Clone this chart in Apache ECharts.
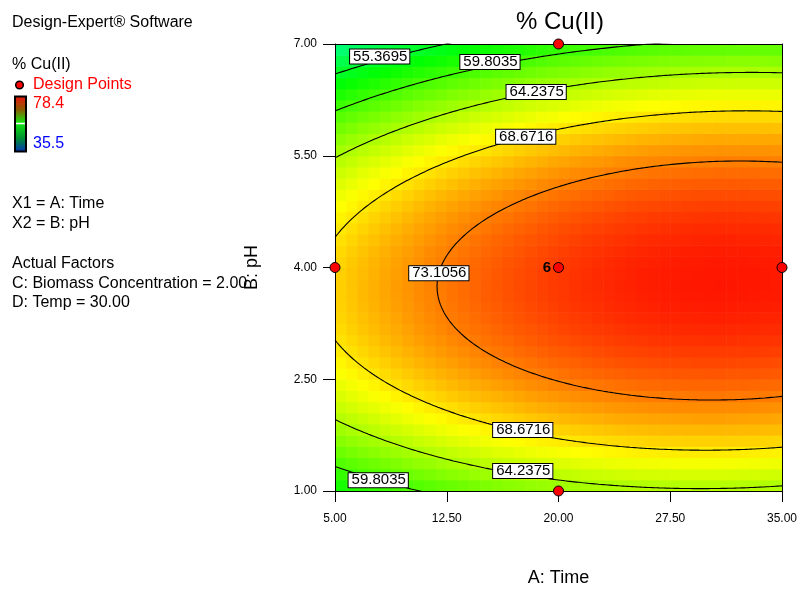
<!DOCTYPE html>
<html>
<head>
<meta charset="utf-8">
<script src="https://cdn.jsdelivr.net/npm/echarts@6/dist/echarts.min.js"></script>
<style>
  html, body { margin: 0; padding: 0; background: #ffffff; }
  #chart { width: 798px; height: 589px; }
</style>
</head>
<body>
<div id="chart"></div>
<script>
// ---- Data ----------------------------------------------------------------
// Axis ticks (actual factor units)
const timeTicks = [5, 12.5, 20, 27.5, 35];
const phTicks = [1, 2.5, 4, 5.5, 7];

// Fitted quadratic for % Cu(II) in coded factors A (Time) and B (pH),
// with C (Biomass Concentration) and D (Temp) held at their actual values.
const modelTerms = ['Intercept', 'A', 'B', 'AB', 'A^2', 'B^2'];
const modelCoef = [75.92, 3.96, -2.26, 0.64, -2.62, -15.30];

// Contour levels drawn on the surface
const contourLevels = [55.3695, 59.8035, 64.2375, 68.6716, 73.1056];

// Observed response range (colour scale)
const responseRange = [35.5, 78.4];

// Design points (Time, pH) and replicate count
const designTime = [5, 20, 20, 20, 35];
const designPH = [4, 7, 4, 1, 4];
const designReps = [1, 1, 6, 1, 1];

// ---- Model helpers -------------------------------------------------------
const FONT = '"Liberation Sans", Arial, Helvetica, sans-serif';
const toCoded = (t, p) => [(t - 20) / 15, (p - 4) / 3];
const toActual = (a, b) => [20 + 15 * a, 4 + 3 * b];

function response(t, p) {
  const [a, b] = toCoded(t, p);
  const c = modelCoef;
  return c[0] + c[1] * a + c[2] * b + c[3] * a * b + c[4] * a * a + c[5] * b * b;
}

// Coded B values (upper, lower) at which the response equals `level` for coded A = a
function solveB(a, level) {
  const c = modelCoef;
  const qa = c[5], qb = c[2] + c[3] * a, qc = c[0] + c[1] * a + c[4] * a * a - level;
  const disc = qb * qb - 4 * qa * qc;
  if (disc < 0) return null;
  const s = Math.sqrt(disc);
  const b1 = (-qb - s) / (2 * qa), b2 = (-qb + s) / (2 * qa);
  return [Math.max(b1, b2), Math.min(b1, b2)];
}

// Left-most coded A where a contour closes on itself (or -1 if it stays open)
function contourTip(level) {
  if (solveB(-1, level)) return -1;
  let lo = -1, hi = 1;
  for (let k = 0; k < 60; k++) {
    const mid = (lo + hi) / 2;
    if (solveB(mid, level)) hi = mid; else lo = mid;
  }
  return hi;
}

function contourPaths(level) {
  const N = 400;
  const tip = contourTip(level);
  const up = [], dn = [];
  for (let i = 0; i <= N; i++) {
    const s = i / N;
    const a = tip === -1 ? -1 + 2 * s : tip + (1 - tip) * s * s;
    const r = solveB(a, level);
    if (!r) continue;
    up.push(toActual(a, r[0]));
    dn.push(toActual(a, r[1]));
  }
  if (tip === -1) return [up, dn];
  return [dn.reverse().concat(up)];
}

// ---- Response grid (40 x 40 cells) --------------------------------------
const nCols = 40, nRows = 40;
const tMin = timeTicks[0], tMax = timeTicks[timeTicks.length - 1];
const pMin = phTicks[0], pMax = phTicks[phTicks.length - 1];
const dT = (tMax - tMin) / nCols, dP = (pMax - pMin) / nRows;
const cells = [];
for (let i = 0; i < nCols; i++) {
  for (let j = 0; j < nRows; j++) {
    const t = tMin + (i + 0.5) * dT, p = pMin + (j + 0.5) * dP;
    cells.push([t, p, response(t, p)]);
  }
}

// ---- Series ------------------------------------------------------------
const series = [];

series.push({
  type: 'custom',
  name: 'surface',
  silent: true,
  clip: true,
  z: 1,
  data: cells,
  encode: { x: 0, y: 1 },
  renderItem: function (params, api) {
    const t = api.value(0), p = api.value(1);
    const p0 = api.coord([t - dT / 2, p + dP / 2]);
    const p1 = api.coord([t + dT / 2, p - dP / 2]);
    return {
      type: 'rect',
      shape: { x: p0[0], y: p0[1], width: p1[0] - p0[0] + 0.6, height: p1[1] - p0[1] + 0.6 },
      style: { fill: api.visual('color') }
    };
  }
});

contourLevels.forEach(level => {
  contourPaths(level).forEach(path => {
    series.push({
      type: 'line',
      data: path,
      showSymbol: false,
      symbol: 'none',
      clip: true,
      silent: true,
      z: 4,
      lineStyle: { color: '#000000', width: 1.1 }
    });
  });
});

// Contour labels: anchored on each contour at a chosen Time
// (branch 0 = upper arm, 1 = lower arm; tipOffset = Time past the closed end)
const labelAnchors = [
  { level: 55.3695, time: 8.0, branch: 0, dy: -4 },
  { level: 59.8035, time: 15.4, branch: 0, dy: -4 },
  { level: 64.2375, time: 18.5, branch: 0, dy: 0 },
  { level: 68.6716, time: 17.8, branch: 0, dy: 0 },
  { level: 73.1056, tipOffset: 0.12, branch: 0, dy: 0 },
  { level: 68.6716, time: 17.6, branch: 1, dy: -2 },
  { level: 64.2375, time: 17.6, branch: 1, dy: -4 },
  { level: 59.8035, time: 7.9, branch: 1, dy: 0 }
];
const labelData = labelAnchors.map(an => {
  const a = an.tipOffset !== undefined
    ? contourTip(an.level) + an.tipOffset / 15
    : (an.time - 20) / 15;
  const b = solveB(a, an.level)[an.branch];
  return {
    value: toActual(a, b),
    name: an.level.toFixed(4),
    label: { offset: [0, an.dy] }
  };
});
series.push({
  type: 'scatter',
  data: labelData,
  symbolSize: 0,
  silent: true,
  clip: false,
  z: 6,
  itemStyle: { opacity: 1 },
  label: {
    show: true,
    position: 'inside',
    formatter: p => p.name,
    color: '#000000',
    fontFamily: FONT,
    fontSize: 15,
    lineHeight: 13,
    backgroundColor: '#ffffff',
    borderColor: '#000000',
    borderWidth: 1,
    padding: [1, 2, 0, 3]
  }
});

// Design points
series.push({
  type: 'scatter',
  data: designTime.map((t, i) => ({ value: [t, designPH[i]], reps: designReps[i] })),
  symbol: 'circle',
  symbolSize: 10,
  clip: false,
  silent: true,
  z: 10,
  itemStyle: { color: '#ff0000', borderColor: '#000000', borderWidth: 1, opacity: 1 },
  label: {
    show: true,
    position: 'left',
    distance: 2,
    formatter: p => (p.data.reps > 1 ? String(p.data.reps) : ''),
    color: '#000000',
    fontFamily: FONT,
    fontSize: 15,
    fontWeight: 'bold'
  }
});

// ---- Side panel text ---------------------------------------------------
const textStyle = (txt, x, y, fill, size) => ({
  type: 'text',
  x: x, y: y,
  style: {
    text: txt,
    fill: fill || '#000000',
    font: (size || 16) + 'px ' + FONT,
    textAlign: 'left',
    textVerticalAlign: 'middle'
  },
  silent: true,
  z: 20
});

const graphics = [
  textStyle('Design-Expert\u00AE Software', 12, 23),
  textStyle('% Cu(II)', 12, 65),
  textStyle('Design Points', 33, 85, '#ff0000'),
  textStyle('78.4', 33, 104, '#ff0000'),
  textStyle('35.5', 33, 144, '#0000ff'),
  textStyle('X1 = A: Time', 12, 204),
  textStyle('X2 = B: pH', 12, 224),
  textStyle('Actual Factors', 12, 264),
  textStyle('C: Biomass Concentration = 2.00', 12, 284),
  textStyle('D: Temp = 30.00', 12, 303),
  {
    type: 'circle',
    shape: { cx: 19.5, cy: 85, r: 3.8 },
    style: { fill: '#ff0000', stroke: '#000000', lineWidth: 1.5 },
    silent: true, z: 20
  },
  {
    type: 'rect',
    shape: { x: 15, y: 96.5, width: 11, height: 55 },
    style: {
      fill: new echarts.graphic.LinearGradient(0, 0, 0, 1, [
        { offset: 0, color: '#f01010' },
        { offset: 0.25, color: '#8a5c00' },
        { offset: 0.48, color: '#10e810' },
        { offset: 0.75, color: '#009030' },
        { offset: 1, color: '#0030c0' }
      ]),
      stroke: '#000000',
      lineWidth: 2
    },
    silent: true, z: 20
  },
  {
    type: 'line',
    shape: { x1: 16, y1: 123.5, x2: 25, y2: 123.5 },
    style: { stroke: '#ffffff', lineWidth: 1.5 },
    silent: true, z: 21
  },
  {
    type: 'text',
    x: 560, y: 22,
    style: {
      text: '% Cu(II)',
      fill: '#000000',
      font: '24px ' + FONT,
      textAlign: 'center',
      textVerticalAlign: 'middle'
    },
    silent: true, z: 20
  }
];

// ---- Chart -------------------------------------------------------------
const axisText = { color: '#000000', fontFamily: FONT, fontSize: 12 };
const option = {
  animation: false,
  backgroundColor: '#ffffff',
  grid: { left: 335, top: 44, width: 447, height: 447, containLabel: false, outerBoundsMode: 'none' },
  visualMap: {
    type: 'continuous',
    show: false,
    min: responseRange[0],
    max: responseRange[1],
    dimension: 2,
    seriesIndex: 0,
    inRange: { color: ['#0000ff', '#00ffff', '#00ff00', '#ffff00', '#ff0000'] }
  },
  xAxis: [
    {
      type: 'value', min: tMin, max: tMax, position: 'bottom', z: 5,
      name: 'A: Time', nameLocation: 'middle', nameGap: 78,
      nameTextStyle: { color: '#000000', fontFamily: FONT, fontSize: 18 },
      axisLine: { show: true, onZero: false, lineStyle: { color: '#000000', width: 1 } },
      axisTick: { show: true, inside: false, length: 11, customValues: timeTicks, lineStyle: { color: '#000000' } },
      axisLabel: Object.assign({ customValues: timeTicks, margin: 22, formatter: v => v.toFixed(2) }, axisText),
      splitLine: { show: false }
    },
    {
      type: 'value', min: tMin, max: tMax, position: 'top', z: 5,
      axisLine: { show: true, onZero: false, lineStyle: { color: '#000000', width: 1 } },
      axisTick: { show: false }, axisLabel: { show: false }, splitLine: { show: false }
    }
  ],
  yAxis: [
    {
      type: 'value', min: pMin, max: pMax, position: 'left', z: 5,
      name: 'B: pH', nameLocation: 'middle', nameGap: 74, nameRotate: 90,
      nameTextStyle: { color: '#000000', fontFamily: FONT, fontSize: 18 },
      axisLine: { show: true, onZero: false, lineStyle: { color: '#000000', width: 1 } },
      axisTick: { show: true, inside: false, length: 12, customValues: phTicks, lineStyle: { color: '#000000' } },
      axisLabel: Object.assign({ customValues: phTicks, margin: 18, formatter: v => v.toFixed(2) }, axisText),
      splitLine: { show: false }
    },
    {
      type: 'value', min: pMin, max: pMax, position: 'right', z: 5,
      axisLine: { show: true, onZero: false, lineStyle: { color: '#000000', width: 1 } },
      axisTick: { show: false }, axisLabel: { show: false }, splitLine: { show: false }
    }
  ],
  graphic: graphics,
  series: series
};

const chart = echarts.init(document.getElementById('chart'), null, { renderer: 'canvas' });
chart.setOption(option);
</script>
</body>
</html>
